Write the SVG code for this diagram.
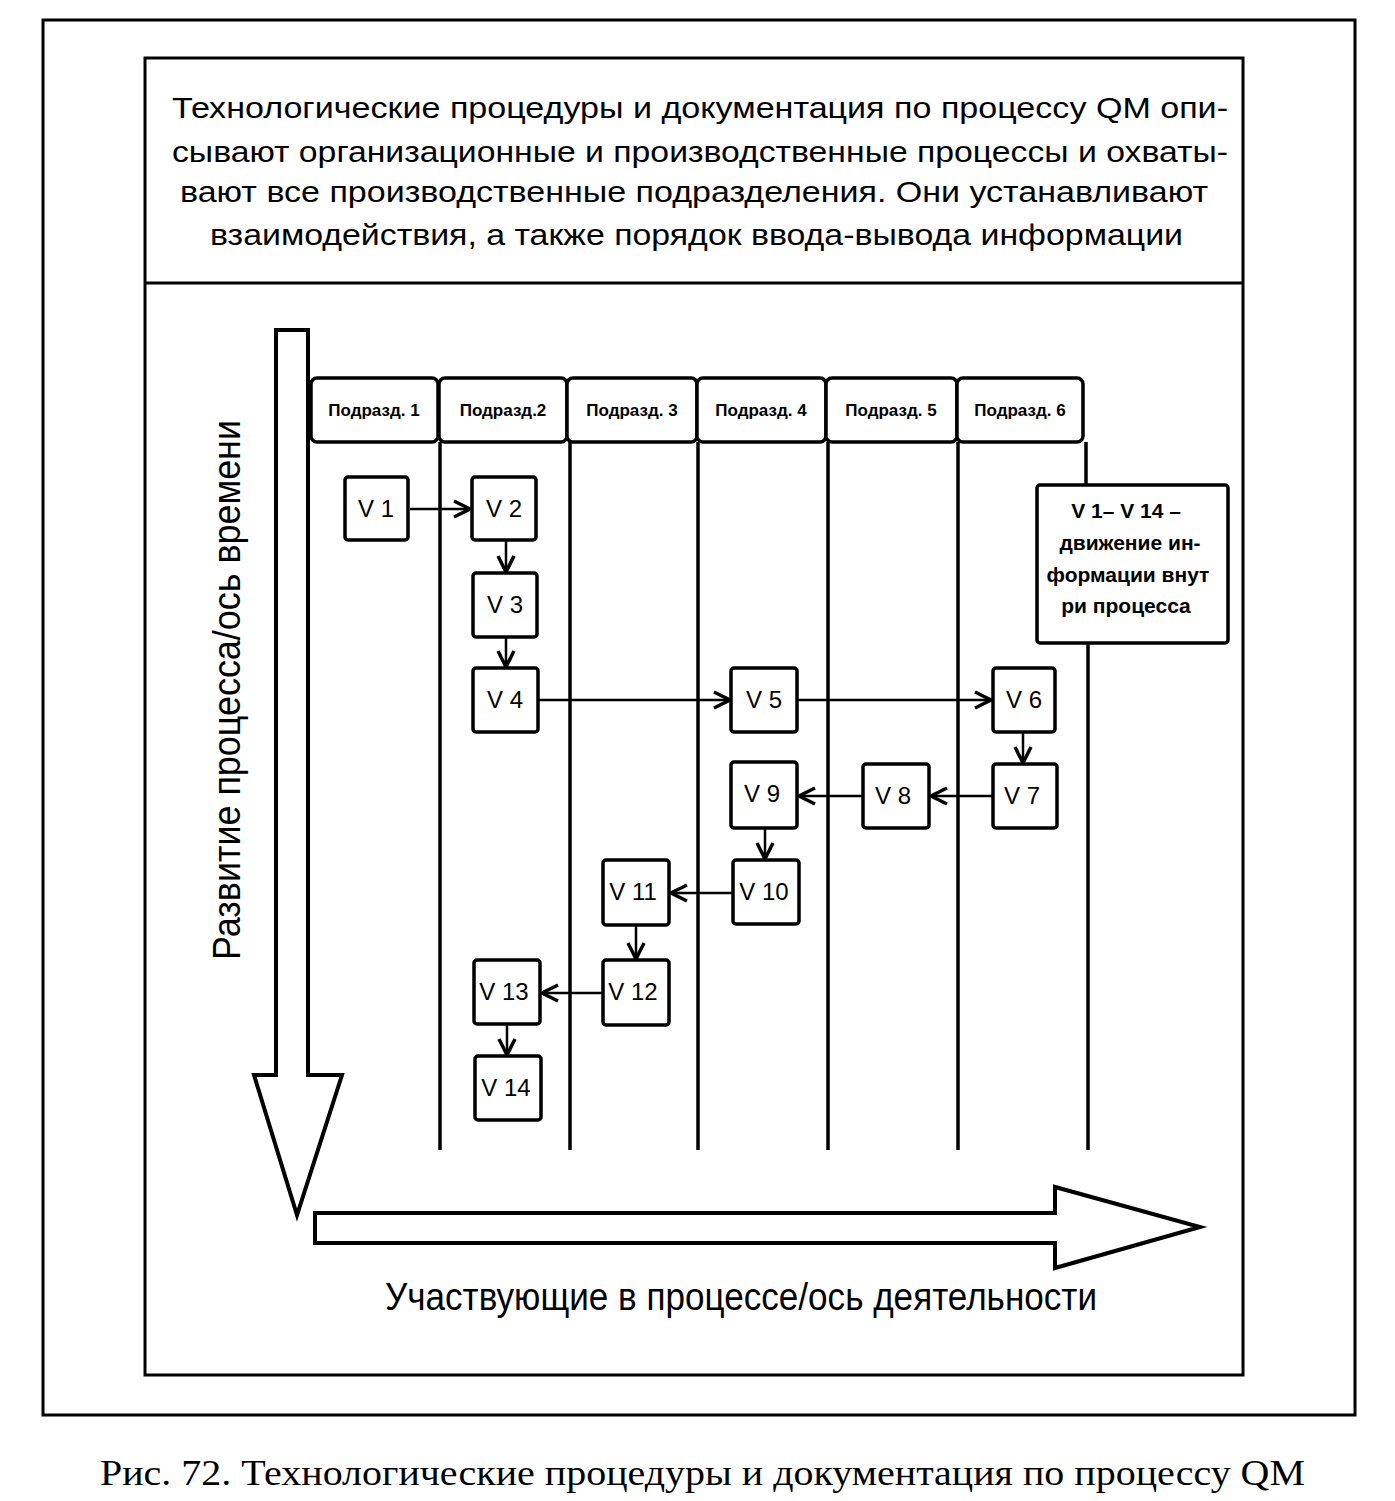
<svg xmlns="http://www.w3.org/2000/svg" width="1395" height="1501" viewBox="0 0 1395 1501">
<style>
.frame{fill:none;stroke:#000;stroke-width:3}
.box{fill:#fff;stroke:#000;stroke-width:3.5}
.lane{stroke:#000;stroke-width:3.5}
.hdr{fill:#fff;stroke:#000;stroke-width:3.5}
.big{fill:#fff;stroke:#000;stroke-width:4;stroke-linejoin:miter}
.conn{stroke:#000;stroke-width:2.5;fill:none}
.lbl{font-family:"Liberation Sans",Arial,sans-serif;font-size:24px;fill:#000;text-anchor:middle}
.hl{font-family:"Liberation Sans",Arial,sans-serif;font-size:17px;fill:#000;text-anchor:middle;font-weight:bold}
.top{font-family:"Liberation Sans",Arial,sans-serif;font-size:29px;fill:#000}
.leg{font-family:"Liberation Sans",Arial,sans-serif;font-size:21px;font-weight:bold;fill:#000;text-anchor:middle}
.axis{font-family:"Liberation Sans",Arial,sans-serif;font-size:38px;fill:#000;text-anchor:middle}
.cap{font-family:"Liberation Serif","Times New Roman",serif;font-size:35px;fill:#000}
</style>
<defs>
<marker id="ah" viewBox="0 0 20 20" refX="18" refY="10" markerWidth="20" markerHeight="20" markerUnits="userSpaceOnUse" orient="auto">
<path d="M2,2 L18,10 L2,18" fill="none" stroke="#000" stroke-width="3.5"/>
</marker>
</defs>
<rect width="1395" height="1501" fill="#fff"/>
<rect class="frame" x="43" y="20" width="1312" height="1395"/>
<rect class="frame" x="145" y="58" width="1098" height="1317"/>
<line class="frame" x1="145" y1="283" x2="1243" y2="283"/>
<g id="header-text">
<text class="top" x="172" y="118" textLength="1056" lengthAdjust="spacingAndGlyphs">Технологические процедуры и документация по процессу QM опи-</text>
<text class="top" x="172" y="162" textLength="1056" lengthAdjust="spacingAndGlyphs">сывают организационные и производственные процессы и охваты-</text>
<text class="top" x="180" y="202" textLength="1028" lengthAdjust="spacingAndGlyphs">вают все производственные подразделения. Они устанавливают</text>
<text class="top" x="210" y="245" textLength="973" lengthAdjust="spacingAndGlyphs">взаимодействия, а также порядок ввода-вывода информации</text>
</g>
<g id="time-axis">
<path class="big" d="M276,330 L308,330 L308,1075 L342,1075 L297,1215 L254,1075 L276,1075 Z"/>
<text class="axis" transform="translate(240,690) rotate(-90)" textLength="540" lengthAdjust="spacingAndGlyphs">Развитие процесса/ось времени</text>
</g>
<g id="activity-axis">
<path class="big" d="M315,1213 L1055,1213 L1055,1187 L1200,1227 L1055,1268 L1055,1243 L315,1243 Z"/>
<text class="axis" x="741" y="1310" textLength="712" lengthAdjust="spacingAndGlyphs">Участвующие в процессе/ось деятельности</text>
</g>
<g id="lanes">
<line class="lane" x1="440" y1="442" x2="440" y2="1150"/>
<line class="lane" x1="570" y1="442" x2="570" y2="1150"/>
<line class="lane" x1="698" y1="442" x2="698" y2="1150"/>
<line class="lane" x1="828" y1="442" x2="828" y2="1150"/>
<line class="lane" x1="958" y1="442" x2="958" y2="1150"/>
<line class="lane" x1="1086" y1="442" x2="1086" y2="485"/>
<line class="lane" x1="1088" y1="643" x2="1088" y2="1150"/>
</g>
<g id="lane-1"><rect class="hdr" x="311" y="378" width="127" height="64" rx="6"/><text class="hl" x="374" y="416">Подразд. 1</text></g>
<g id="lane-2"><rect class="hdr" x="439" y="378" width="128" height="64" rx="6"/><text class="hl" x="503" y="416">Подразд.2</text></g>
<g id="lane-3"><rect class="hdr" x="567" y="378" width="130" height="64" rx="6"/><text class="hl" x="632" y="416">Подразд. 3</text></g>
<g id="lane-4"><rect class="hdr" x="697" y="378" width="129" height="64" rx="6"/><text class="hl" x="761" y="416">Подразд. 4</text></g>
<g id="lane-5"><rect class="hdr" x="826" y="378" width="131" height="64" rx="6"/><text class="hl" x="891" y="416">Подразд. 5</text></g>
<g id="lane-6"><rect class="hdr" x="957" y="378" width="126" height="64" rx="6"/><text class="hl" x="1020" y="416">Подразд. 6</text></g>
<g id="connectors">
<line class="conn" x1="410" y1="509" x2="470" y2="509" marker-end="url(#ah)"/>
<line class="conn" x1="506" y1="540" x2="506" y2="572" marker-end="url(#ah)"/>
<line class="conn" x1="506" y1="637" x2="506" y2="667" marker-end="url(#ah)"/>
<line class="conn" x1="539" y1="700" x2="730" y2="700" marker-end="url(#ah)"/>
<line class="conn" x1="798" y1="700" x2="991" y2="700" marker-end="url(#ah)"/>
<line class="conn" x1="1023" y1="732" x2="1023" y2="763" marker-end="url(#ah)"/>
<line class="conn" x1="993" y1="796" x2="931" y2="796" marker-end="url(#ah)"/>
<line class="conn" x1="863" y1="796" x2="799" y2="796" marker-end="url(#ah)"/>
<line class="conn" x1="765" y1="828" x2="765" y2="859" marker-end="url(#ah)"/>
<line class="conn" x1="733" y1="893" x2="671" y2="893" marker-end="url(#ah)"/>
<line class="conn" x1="636" y1="925" x2="636" y2="959" marker-end="url(#ah)"/>
<line class="conn" x1="603" y1="993" x2="542" y2="993" marker-end="url(#ah)"/>
<line class="conn" x1="507" y1="1024" x2="507" y2="1055" marker-end="url(#ah)"/>
</g>
<g id="V1"><rect class="box" x="345" y="477" width="63" height="63" rx="3"/><text class="lbl" x="376" y="517">V 1</text></g>
<g id="V2"><rect class="box" x="472" y="477" width="64" height="63" rx="3"/><text class="lbl" x="504" y="517">V 2</text></g>
<g id="V3"><rect class="box" x="473" y="573" width="64" height="64" rx="3"/><text class="lbl" x="505" y="613">V 3</text></g>
<g id="V4"><rect class="box" x="473" y="668" width="65" height="64" rx="3"/><text class="lbl" x="505" y="708">V 4</text></g>
<g id="V5"><rect class="box" x="731" y="668" width="66" height="64" rx="3"/><text class="lbl" x="764" y="708">V 5</text></g>
<g id="V6"><rect class="box" x="993" y="668" width="62" height="64" rx="3"/><text class="lbl" x="1024" y="708">V 6</text></g>
<g id="V7"><rect class="box" x="993" y="764" width="64" height="64" rx="3"/><text class="lbl" x="1022" y="804">V 7</text></g>
<g id="V8"><rect class="box" x="863" y="764" width="66" height="64" rx="3"/><text class="lbl" x="893" y="804">V 8</text></g>
<g id="V9"><rect class="box" x="731" y="762" width="66" height="66" rx="3"/><text class="lbl" x="762" y="802">V 9</text></g>
<g id="V10"><rect class="box" x="733" y="860" width="66" height="64" rx="3"/><text class="lbl" x="764" y="900">V 10</text></g>
<g id="V11"><rect class="box" x="603" y="860" width="66" height="65" rx="3"/><text class="lbl" x="633" y="900">V 11</text></g>
<g id="V12"><rect class="box" x="603" y="960" width="66" height="65" rx="3"/><text class="lbl" x="633" y="1000">V 12</text></g>
<g id="V13"><rect class="box" x="474" y="960" width="66" height="64" rx="3"/><text class="lbl" x="504" y="1000">V 13</text></g>
<g id="V14"><rect class="box" x="475" y="1056" width="66" height="64" rx="3"/><text class="lbl" x="506" y="1096">V 14</text></g>
<g id="legend">
<rect class="box" x="1037" y="485" width="191" height="158" rx="3"/>
<text class="leg" x="1126" y="518">V 1– V 14 –</text>
<text class="leg" x="1130" y="550">движение ин-</text>
<text class="leg" x="1128" y="582">формации внут</text>
<text class="leg" x="1126" y="613">ри процесса</text>
</g>
<text class="cap" x="100" y="1485" textLength="1205" lengthAdjust="spacingAndGlyphs">Рис. 72. Технологические процедуры и документация по процессу QM</text>
</svg>
